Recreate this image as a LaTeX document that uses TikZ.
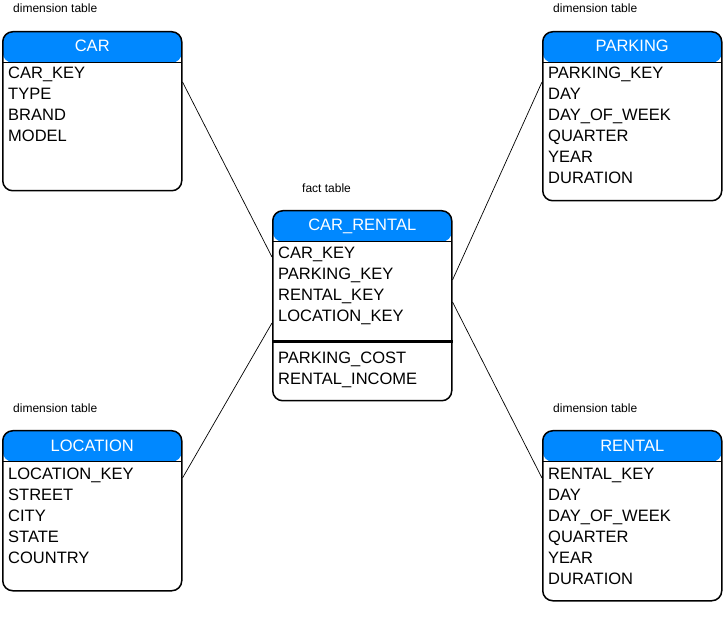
\documentclass[tikz,border=0pt]{standalone}
\usepackage{fontspec}
\setmainfont{Liberation Sans}
\usepackage{xcolor}
\usepackage{tikz}
\usetikzlibrary{positioning,calc}
\definecolor{headblue}{RGB}{0,136,255}

\begin{document}
\begin{tikzpicture}[
    x=1pt, y=-1pt,
    erbox/.style={draw=black, line width=1.5pt, rounded corners=10pt, minimum width=179pt, anchor=north west, inner sep=0pt,
        path picture={
            \fill[headblue] (path picture bounding box.north west) rectangle ([yshift=-31pt]path picture bounding box.north east);
            \draw[line width=1.2pt] ([yshift=-31pt]path picture bounding box.north west) -- ([yshift=-31pt]path picture bounding box.north east);
        }},
    title/.style={font=\fontsize{16.5}{19}\selectfont, text=white, anchor=base, inner sep=0pt},
    field/.style={font=\fontsize{16.5}{19}\selectfont, anchor=base west, inner sep=0pt},
    tag/.style={font=\fontsize{12}{14}\selectfont, anchor=base west, inner sep=0pt},
    link/.style={draw=black, line width=0.7pt}
]
    \useasboundingbox (0,0) rectangle (723,617);

    % Dimension table CAR (top left)
    \node[erbox, minimum height=159pt] (car) at (2,31) {};
    \node[title] (car-title) at ($(car.north)+(0,21)$) {CAR};
    \node[tag] (car-tag) at (13,13) {dimension table};
    \foreach \f [count=\i from 0] in {CAR\_KEY,TYPE,BRAND,MODEL}
        \node[field] (car-\i) at ($(car.north west)+(6,48+21*\i)$) {\f};

    % Dimension table PARKING (top right)
    \node[erbox, minimum height=169pt] (parking) at (542,31) {};
    \node[title] (parking-title) at ($(parking.north)+(0,21)$) {PARKING};
    \node[tag] (parking-tag) at (553,13) {dimension table};
    \foreach \f [count=\i from 0] in {PARKING\_KEY,DAY,DAY\_OF\_WEEK,QUARTER,YEAR,DURATION}
        \node[field] (parking-\i) at ($(parking.north west)+(6,48+21*\i)$) {\f};

    % Fact table CAR_RENTAL (centre)
    \node[erbox, minimum height=190pt] (fact) at (272,210) {};
    \node[title] (fact-title) at ($(fact.north)+(0,21)$) {CAR\_RENTAL};
    \node[tag] (fact-tag) at (302,193) {fact table};
    \foreach \f [count=\i from 0] in {CAR\_KEY,PARKING\_KEY,RENTAL\_KEY,LOCATION\_KEY}
        \node[field] (fact-\i) at ($(fact.north west)+(6,49+21*\i)$) {\f};
    \draw[line width=3pt] ($(fact.north west)+(0,132)$) -- ($(fact.north east)+(0,132)$);
    \foreach \f [count=\i from 0] in {PARKING\_COST,RENTAL\_INCOME}
        \node[field] (measure-\i) at ($(fact.north west)+(6,154+21*\i)$) {\f};

    % Dimension table LOCATION (bottom left)
    \node[erbox, minimum height=160pt] (location) at (2,430) {};
    \node[title] (location-title) at ($(location.north)+(0,21)$) {LOCATION};
    \node[tag] (location-tag) at (13,413) {dimension table};
    \foreach \f [count=\i from 0] in {LOCATION\_KEY,STREET,CITY,STATE,COUNTRY}
        \node[field] (location-\i) at ($(location.north west)+(6,49+21*\i)$) {\f};

    % Dimension table RENTAL (bottom right)
    \node[erbox, minimum height=170pt] (rental) at (542,430) {};
    \node[title] (rental-title) at ($(rental.north)+(0,21)$) {RENTAL};
    \node[tag] (rental-tag) at (553,413) {dimension table};
    \foreach \f [count=\i from 0] in {RENTAL\_KEY,DAY,DAY\_OF\_WEEK,QUARTER,YEAR,DURATION}
        \node[field] (rental-\i) at ($(rental.north west)+(6,49+21*\i)$) {\f};

    % Links from the fact table to its dimensions
    \draw[link] ($(car.north east)+(0,51)$) -- ($(fact.north west)+(0,47)$);
    \draw[link] ($(parking.north west)+(0,51)$) -- ($(fact.north east)+(0,70)$);
    \draw[link] ($(location.north east)+(0,48)$) -- ($(fact.north west)+(0,113)$);
    \draw[link] ($(rental.north west)+(0,48)$) -- ($(fact.north east)+(0,92)$);
\end{tikzpicture}
\end{document}
